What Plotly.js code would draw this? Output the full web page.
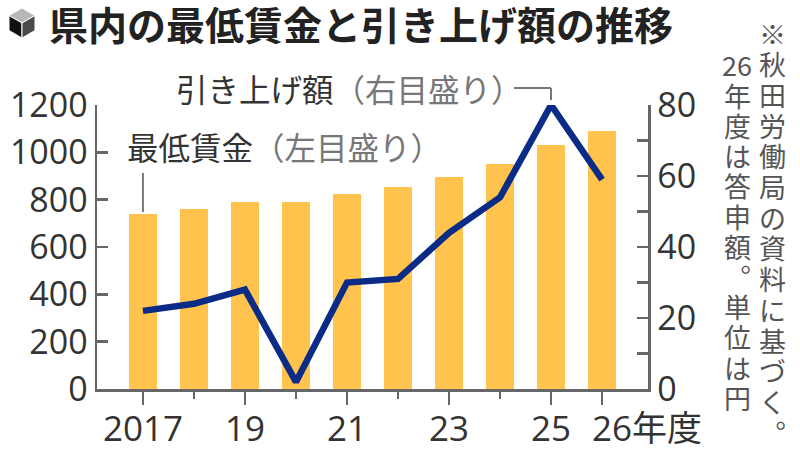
<!DOCTYPE html>
<html>
<head>
<meta charset="utf-8">
<script src="https://cdn.plot.ly/plotly-3.0.1.min.js"></script>
<style>html,body{margin:0;padding:0;background:#fff;}#chart{width:800px;height:450px;}</style>
</head>
<body>
<div id="chart"></div>
<script>
// ---- data ----
const years = [2017, 2018, 2019, 2020, 2021, 2022, 2023, 2024, 2025, 2026];
const minWage = [738, 762, 790, 792, 822, 853, 897, 951, 1031, 1090];
const raiseAmount = [22, 24, 28, 2, 30, 31, 44, 54, 80, 59];
const xTickVals = [2017, 2019, 2021, 2023, 2025, 2026];
const xTickText = ["2017", "19", "21", "23", "25", ""];
const lastTickLabel = "26年度";
const leftTicks = [0, 200, 400, 600, 800, 1000, 1200];
const rightTicks = [0, 20, 40, 60, 80];
const titleText = "県内の最低賃金と引き上げ額の推移";
const wageLabel = "最低賃金";
const wageNote = "（左目盛り）";
const raiseLabel = "引き上げ額";
const raiseNote = "（右目盛り）";
const noteRight = ["※","秋","田","労","働","局","の","資","料","に","基","づ","く","︒"];
const noteLeft = ["26","年","度","は","答","申","額","︒","単","位","は","円"];

// ---- layout helpers (pixel -> paper) ----
const W = 800, H = 450;
const px = v => v / W;
const py = v => 1 - v / H;

const axisColor = "#666";
const textColor = "#333";
const numFont = "Open Sans, Noto Sans CJK JP, sans-serif";
const jpFont = "Noto Sans CJK JP, sans-serif";

const traces = [
  {
    type: "bar", x: years, y: minWage, width: 0.55,
    marker: {color: "#FFC34E", line: {width: 0}},
    hoverinfo: "skip", yaxis: "y"
  },
  {
    type: "scatter", mode: "lines", x: years, y: raiseAmount, yaxis: "y2",
    line: {color: "#0B2C86", width: 6.5},
    hoverinfo: "skip"
  }
];

// cube icon
const cx = 22, cy = 23;
const P = (x, y) => px(x) + "," + py(y);
const cubeTop = [P(cx, 8), P(35, 15.5), P(cx, cy), P(9, 15.5)];
const cubeLeft = [P(9, 15.5), P(cx, cy), P(cx, 38), P(9, 30.5)];
const cubeRight = [P(cx, cy), P(35, 15.5), P(35, 30.5), P(cx, 38)];
const poly = pts => "M" + pts.join(" L") + " Z";

const shapes = [
  {type: "path", xref: "paper", yref: "paper", path: poly(cubeTop), fillcolor: "#b8b8b8", line: {color: "#fff", width: 1}},
  {type: "path", xref: "paper", yref: "paper", path: poly(cubeLeft), fillcolor: "#111", line: {color: "#fff", width: 1}},
  {type: "path", xref: "paper", yref: "paper", path: poly(cubeRight), fillcolor: "#4a4a4a", line: {color: "#fff", width: 1}},
  // leader for wage label
  {type: "line", xref: "x", yref: "paper", x0: years[0], x1: years[0], y0: py(173), y1: py(212), line: {color: "#777", width: 2}},
  // leader for raise label
  {type: "line", xref: "paper", yref: "paper", x0: px(514), x1: px(551), y0: py(88), y1: py(88), line: {color: "#777", width: 2}},
  {type: "line", xref: "paper", yref: "paper", x0: px(551), x1: px(551), y0: py(88), y1: py(100), line: {color: "#777", width: 2}}
];

const annotations = [
  {xref: "paper", yref: "paper", x: px(47), y: py(23), xanchor: "left", yanchor: "middle", showarrow: false,
   text: titleText, font: {family: jpFont, size: 39, color: "#222", weight: 700}},
  {xref: "paper", yref: "paper", x: px(125), y: py(146), xanchor: "left", yanchor: "middle", showarrow: false,
   text: wageLabel + '<span style="color:#777">' + wageNote + '</span>', font: {family: jpFont, size: 31.5, color: "#333"}},
  {xref: "paper", yref: "paper", x: px(174), y: py(88), xanchor: "left", yanchor: "middle", showarrow: false,
   text: raiseLabel + '<span style="color:#777">' + raiseNote + '</span>', font: {family: jpFont, size: 31.5, color: "#333"}},
  {xref: "x", yref: "paper", x: years[years.length - 1], y: py(427), xanchor: "left", yanchor: "middle", xshift: -12, showarrow: false,
   text: lastTickLabel, font: {family: numFont, size: 35, color: textColor}}
];
noteRight.forEach((c, i) => annotations.push({
  xref: "paper", yref: "paper", x: px(772), y: py(33 + i * 30.7), xanchor: "center", yanchor: "middle", showarrow: false,
  text: c, font: {family: jpFont, size: 27, color: "#555"}
}));
noteLeft.forEach((c, i) => annotations.push({
  xref: "paper", yref: "paper", x: px(737), y: py(65 + i * 30.2), xanchor: "center", yanchor: "middle", showarrow: false,
  text: c, font: {family: jpFont, size: 27, color: "#555"}
}));

const layout = {
  width: W, height: H,
  margin: {l: 0, r: 0, t: 0, b: 0},
  paper_bgcolor: "#fff", plot_bgcolor: "#fff",
  showlegend: false,
  bargap: 0,
  xaxis: {
    domain: [px(97), px(648)], range: [2016.1, 2026.9],
    showgrid: false, zeroline: false,
    showline: true, linecolor: axisColor, linewidth: 2.5,
    tickmode: "array", tickvals: xTickVals, ticktext: xTickText,
    ticks: "outside", ticklen: 13, tickwidth: 2.5, tickcolor: axisColor,
    ticklabelstandoff: -6,
    tickfont: {family: numFont, size: 35, color: textColor},
    minor: {ticks: "outside", ticklen: 7, tickwidth: 2.5, tickcolor: axisColor, tickmode: "linear", tick0: 2017, dtick: 1, showgrid: false}
  },
  yaxis: {
    domain: [py(389), py(105)], range: [0, 1200],
    showgrid: false, zeroline: false,
    showline: true, linecolor: axisColor, linewidth: 2.5,
    tickmode: "array", tickvals: leftTicks,
    ticks: "inside", ticklen: 11, tickwidth: 2.5, tickcolor: axisColor,
    tickfont: {family: numFont, size: 34, color: textColor}
  },
  yaxis2: {
    overlaying: "y", side: "right", anchor: "x", range: [0, 80],
    showgrid: false, zeroline: false,
    showline: true, linecolor: axisColor, linewidth: 2.5,
    tickmode: "array", tickvals: rightTicks,
    ticks: "inside", ticklen: 11, tickwidth: 2.5, tickcolor: axisColor,
    tickfont: {family: numFont, size: 34, color: textColor},
    minor: {ticks: "inside", ticklen: 11, tickwidth: 2.5, tickcolor: axisColor, tickmode: "linear", tick0: 0, dtick: 10, showgrid: false}
  },
  shapes: shapes,
  annotations: annotations
};

Plotly.newPlot("chart", traces, layout, {staticPlot: true, displayModeBar: false});
</script>
</body>
</html>
